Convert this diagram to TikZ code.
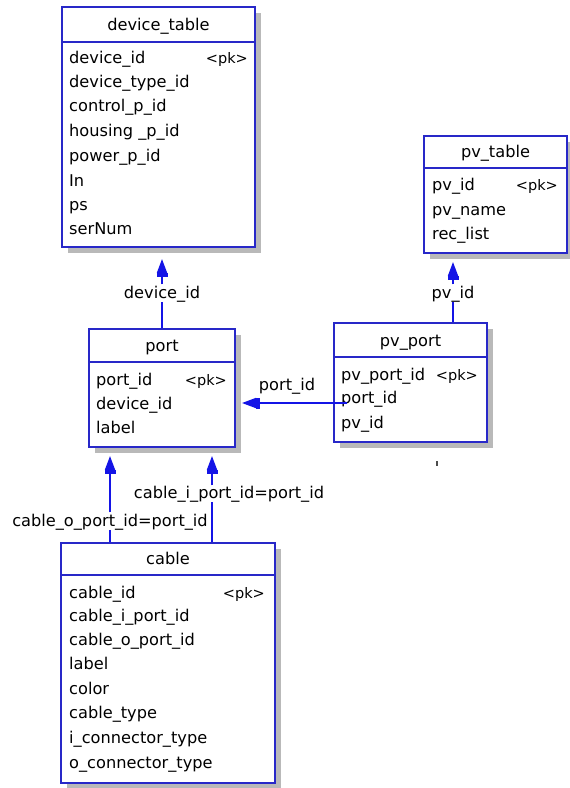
\documentclass[tikz,border=0pt]{standalone}
\usepackage{fontspec}
\setmainfont{DejaVu Sans}
\usetikzlibrary{arrows.meta,shadows}
\definecolor{boxblue}{RGB}{40,40,200}
\definecolor{connblue}{RGB}{20,20,230}
\definecolor{shadowgray}{RGB}{185,185,185}
\tikzset{
  tbl/.style={draw=boxblue, line width=1.5pt, fill=white, inner sep=0pt,
    drop shadow={shadow xshift=6pt, shadow yshift=-6pt, fill=shadowgray, opacity=1}},
  hdr/.style={draw=boxblue, line width=1.5pt},
  ttl/.style={font=\fontsize{16.2}{18}\selectfont, inner sep=0pt, anchor=base, text=black},
  row/.style={font=\fontsize{16.2}{18}\selectfont, inner sep=0pt, anchor=base west, text=black},
  pkey/.style={font=\fontsize{14.5}{16}\selectfont, inner sep=0pt, anchor=base east, text=black},
  lbl/.style={font=\fontsize{16.2}{18}\selectfont, inner sep=0pt, anchor=base, text=black},
  conn/.style={draw=connblue, line width=1.6pt},
  fk/.style={conn, -{Rectangle[length=4pt,width=11pt,sep=0pt]Triangle[length=14pt,width=10pt,sep=0pt]}},
}
\begin{document}
\begin{tikzpicture}[x=1pt,y=-1pt]
\useasboundingbox[fill=white] (0,0) rectangle (570,788);

% device_table
\node[tbl, minimum width=193pt, minimum height=240pt] (dev) at (158.5,127) {};
\draw[hdr] (62,42) -- (255,42);
\node[ttl] (devT) at (158.5,30) {device\_table};
\node[row] (dev1) at (69,63) {device\_id};
\node[pkey] (devpk) at (248,63) {<pk>};
\node[row] (dev2) at (69,87) {device\_type\_id};
\node[row] (dev3) at (69,111) {control\_p\_id};
\node[row] (dev4) at (69,136) {housing \_p\_id};
\node[row] (dev5) at (69,161) {power\_p\_id};
\node[row] (dev6) at (69,186) {In};
\node[row] (dev7) at (69,210) {ps};
\node[row] (dev8) at (69,234) {serNum};

% pv_table
\node[tbl, minimum width=143pt, minimum height=117pt] (pvt) at (495.5,194.5) {};
\draw[hdr] (424,168) -- (567,168);
\node[ttl] (pvtT) at (495.5,157) {pv\_table};
\node[row] (pvt1) at (432,190) {pv\_id};
\node[pkey] (pvtpk) at (558,190) {<pk>};
\node[row] (pvt2) at (432,215) {pv\_name};
\node[row] (pvt3) at (432,239) {rec\_list};

% port
\node[tbl, minimum width=146pt, minimum height=118pt] (port) at (162,388) {};
\draw[hdr] (89,362) -- (235,362);
\node[ttl] (portT) at (162,351) {port};
\node[row] (port1) at (96,385) {port\_id};
\node[pkey] (portpk) at (227,385) {<pk>};
\node[row] (port2) at (96,409) {device\_id};
\node[row] (port3) at (96,433) {label};

% pv_port
\node[tbl, minimum width=153pt, minimum height=119pt] (pvp) at (410.5,382.5) {};
\draw[hdr] (334,357) -- (487,357);
\node[ttl] (pvpT) at (410.5,346) {pv\_port};
\node[row] (pvp1) at (341,380) {pv\_port\_id};
\node[pkey] (pvppk) at (478,380) {<pk>};
\node[row] (pvp2) at (341,403) {port\_id};
\node[row] (pvp3) at (341,428) {pv\_id};

% cable
\node[tbl, minimum width=214pt, minimum height=240pt] (cab) at (168,663) {};
\draw[hdr] (61,575) -- (275,575);
\node[ttl] (cabT) at (168,564) {cable};
\node[row] (cab1) at (69,598) {cable\_id};
\node[pkey] (cabpk) at (265,598) {<pk>};
\node[row] (cab2) at (69,621) {cable\_i\_port\_id};
\node[row] (cab3) at (69,645) {cable\_o\_port\_id};
\node[row] (cab4) at (69,669) {label};
\node[row] (cab5) at (69,694) {color};
\node[row] (cab6) at (69,718) {cable\_type};
\node[row] (cab7) at (69,743) {i\_connector\_type};
\node[row] (cab8) at (69,768) {o\_connector\_type};

% connectors
\coordinate (devbot) at (162,259);
\node[lbl] (l1) at (162,298) {device\_id};
\draw[conn] (port.north -| l1) -- (l1.south);
\draw[fk] ([yshift=1pt]l1.north) -- (devbot);

\coordinate (pvtbot) at (453,262);
\node[lbl] (l2) at (453,298) {pv\_id};
\draw[conn] (pvp.north -| l2) -- (l2.south);
\draw[fk] ([yshift=1pt]l2.north) -- (pvtbot);

\coordinate (pvpin) at (347,403);
\coordinate (porttip) at (242,403);
\node[lbl] (l3) at (287,390) {port\_id};
\draw[fk] (pvpin) -- (porttip);

\coordinate (otip) at (110,456);
\node[lbl] (l4) at (110,526) {cable\_o\_port\_id=port\_id};
\draw[conn] (cab.north -| otip) -- (l4.south);
\draw[fk] ([yshift=1pt]l4.north) -- (otip);

\coordinate (itip) at (212,456);
\node[lbl] (l5) at (229,498) {cable\_i\_port\_id=port\_id};
\draw[conn] (cab.north -| itip) -- (l5.south -| itip);
\draw[fk] (l5.north -| itip) -- (itip);

% stray mark
\fill[black!70] (435.5,460.5) rectangle (437.5,466);
\end{tikzpicture}
\end{document}
